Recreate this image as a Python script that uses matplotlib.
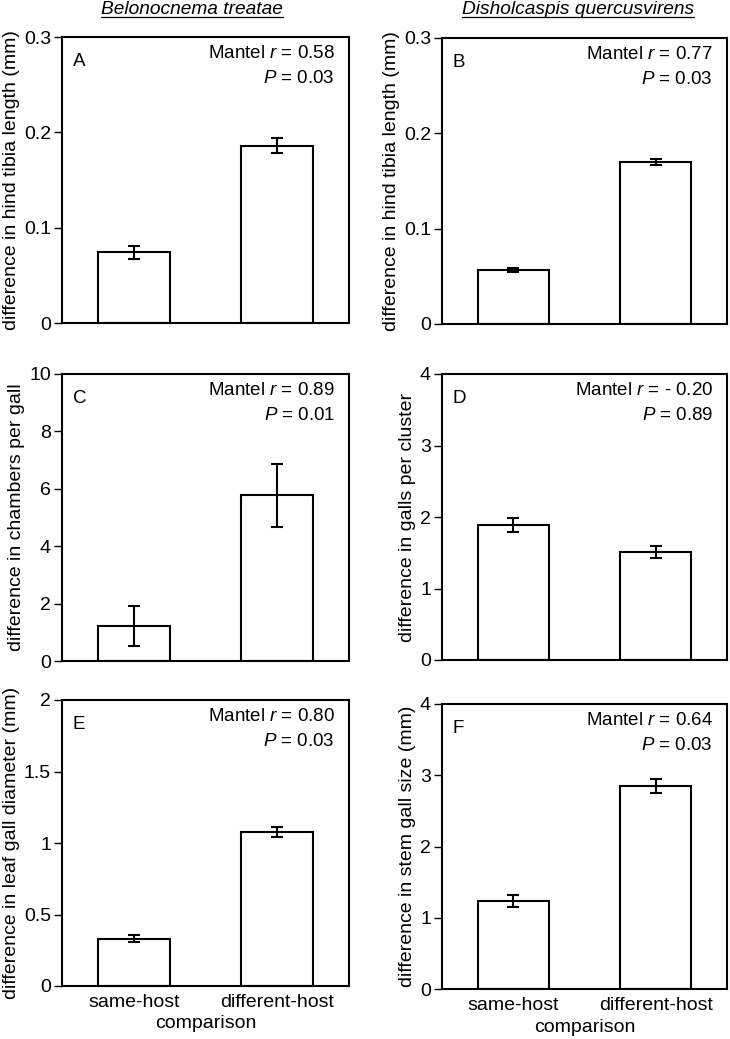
import matplotlib
matplotlib.use("Agg")
import matplotlib.pyplot as plt
from matplotlib.lines import Line2D
from matplotlib.ticker import FuncFormatter

plt.rcParams['font.family'] = ['Liberation Sans', 'DejaVu Sans']
plt.rcParams['mathtext.fontset'] = 'custom'
plt.rcParams['mathtext.rm'] = 'Liberation Sans'
plt.rcParams['mathtext.it'] = 'Liberation Sans:italic'

categories = ["same-host", "different-host"]
species = ["Belonocnema treatae", "Disholcaspis quercusvirens"]

panel_letters = ["A", "B", "C", "D", "E", "F"]
ylabels = ["difference in hind tibia length (mm)",
           "difference in hind tibia length (mm)",
           "difference in chambers per gall",
           "difference in galls per cluster",
           "difference in leaf gall diameter (mm)",
           "difference in stem gall size (mm)"]

means_A = [0.074, 0.186]
errs_A = [0.007, 0.008]
means_B = [0.057, 0.170]
errs_B = [0.002, 0.003]
means_C = [1.23, 5.77]
errs_C = [0.69, 1.10]
means_D = [1.89, 1.51]
errs_D = [0.10, 0.09]
means_E = [0.33, 1.08]
errs_E = [0.025, 0.035]
means_F = [1.23, 2.85]
errs_F = [0.085, 0.095]

mantel_r = ["0.58", "0.77", "0.89", "- 0.20", "0.80", "0.64"]
mantel_p = ["0.03", "0.03", "0.01", "0.89", "0.03", "0.03"]

yticks_A = [0, 0.1, 0.2, 0.3]
yticks_B = [0, 0.1, 0.2, 0.3]
yticks_C = [0, 2, 4, 6, 8, 10]
yticks_D = [0, 1, 2, 3, 4]
yticks_E = [0, 0.5, 1, 1.5, 2]
yticks_F = [0, 1, 2, 3, 4]

means = [means_A, means_B, means_C, means_D, means_E, means_F]
errs = [errs_A, errs_B, errs_C, errs_D, errs_E, errs_F]
yticks = [yticks_A, yticks_B, yticks_C, yticks_D, yticks_E, yticks_F]

W, H = 730, 1039
fig = plt.figure(figsize=(W / 100, H / 100), dpi=100)

# pixel boxes: left, top, right, bottom
boxes = [(62, 37, 349, 323), (442, 38, 727, 324),
         (62, 374, 349, 661), (442, 374, 727, 660),
         (62, 700, 349, 986), (442, 704, 727, 989)]

LW = 1.5
FS = 14
for i, (l, t, r, b) in enumerate(boxes):
    ax = fig.add_axes([l / W, 1 - b / H, (r - l) / W, (b - t) / H])
    x = list(range(len(categories)))
    ax.bar(x, means[i], width=0.5, color='white', edgecolor='black',
           linewidth=LW, zorder=2)
    ax.errorbar(x, means[i], yerr=errs[i], fmt='none', ecolor='black',
                elinewidth=LW, capsize=4, capthick=LW, zorder=3)
    ax.set_xlim(-0.5, 1.5)
    ax.set_ylim(yticks[i][0], yticks[i][-1])
    ax.set_yticks(yticks[i])
    ax.yaxis.set_major_formatter(FuncFormatter(lambda v, p: ('%g' % v)))
    for s in ax.spines.values():
        s.set_linewidth(LW)
    ax.tick_params(axis='y', direction='out', length=6, width=1.0,
                   labelsize=FS, pad=2)
    ax.set_ylabel(ylabels[i], fontsize=FS, labelpad=3)
    if i >= 4:
        ax.set_xticks(x)
        ax.set_xticklabels(categories, fontsize=FS)
        ax.tick_params(axis='x', length=0, pad=6)
        ax.set_xlabel("comparison", fontsize=FS, labelpad=3)
    else:
        ax.set_xticks([])
    # panel letter
    ax.annotate(panel_letters[i], xy=(0, 1), xycoords='axes fraction',
                xytext=(11, -16), textcoords='offset pixels',
                fontsize=13.5, ha='left', va='top')
    ax.annotate("Mantel $r$ = " + mantel_r[i], xy=(1, 1),
                xycoords='axes fraction', xytext=(-14, -8),
                textcoords='offset pixels', fontsize=13.5,
                ha='right', va='top')
    ax.annotate("$P$ = " + mantel_p[i], xy=(1, 1),
                xycoords='axes fraction', xytext=(-14, -33),
                textcoords='offset pixels', fontsize=13.5,
                ha='right', va='top')

# species titles, italic and underlined
title_centers = [192, 578]
TB = 14.5  # baseline, pixels from top
fig.canvas.draw()
renderer = fig.canvas.get_renderer()
for name, cx in zip(species, title_centers):
    txt = fig.text(cx / W, 1 - TB / H, name, fontsize=13.8, style='italic',
                   ha='center', va='baseline')
    bb = txt.get_window_extent(renderer=renderer)
    y_line = (H - TB - 2.5) / H
    fig.add_artist(Line2D([bb.x0 / W, bb.x1 / W], [y_line, y_line],
                          transform=fig.transFigure, color='black',
                          linewidth=0.9))

fig.savefig("out.png", dpi=100)
